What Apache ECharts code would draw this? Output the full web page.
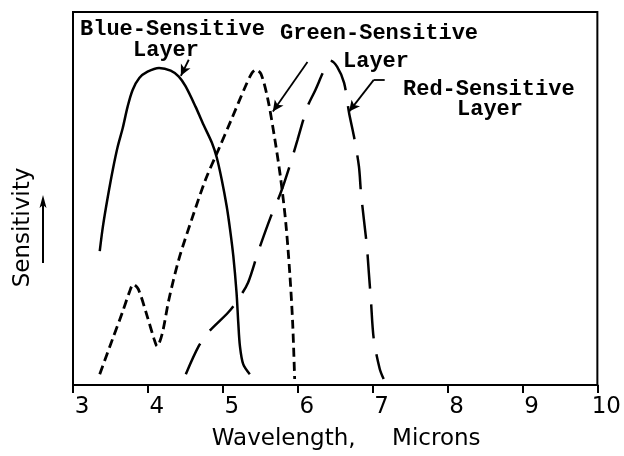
<!DOCTYPE html>
<html>
<head>
<meta charset="utf-8">
<script src="https://cdn.jsdelivr.net/npm/echarts@6/dist/echarts.min.js"></script>
<style>
  html, body { margin: 0; padding: 0; background: #fff; }
  #chart { width: 624px; height: 456px; }
</style>
</head>
<body>
<div id="chart"></div>
<script>
// ---- data (wavelength in microns, relative sensitivity 0..1) ----
const xTicks = [3, 4, 5, 6, 7, 8, 9, 10];

const blueWavelength = [3.357, 3.400, 3.466, 3.532, 3.598, 3.664, 3.730, 3.796, 3.885, 3.995, 4.149, 4.304, 4.413, 4.502, 4.634, 4.744, 4.853, 4.919, 4.985, 5.051, 5.096, 5.140, 5.183, 5.206, 5.228, 5.272, 5.360];
const blueSensitivity = [0.359, 0.426, 0.506, 0.578, 0.640, 0.689, 0.747, 0.791, 0.823, 0.840, 0.850, 0.843, 0.827, 0.801, 0.747, 0.697, 0.650, 0.610, 0.551, 0.480, 0.418, 0.346, 0.248, 0.168, 0.105, 0.056, 0.029];

const greenWavelength = [3.357, 3.528, 3.660, 3.753, 3.806, 3.872, 3.991, 4.083, 4.123, 4.189, 4.281, 4.413, 4.585, 4.770, 4.942, 5.113, 5.298, 5.391, 5.444, 5.510, 5.602, 5.695, 5.774, 5.840, 5.893, 5.932, 5.959];
const greenSensitivity = [0.029, 0.123, 0.195, 0.249, 0.270, 0.257, 0.184, 0.123, 0.104, 0.136, 0.230, 0.337, 0.444, 0.551, 0.631, 0.711, 0.799, 0.837, 0.845, 0.834, 0.765, 0.658, 0.551, 0.436, 0.302, 0.168, 0.016];

const redWavelength = [4.506, 4.678, 4.810, 5.074, 5.206, 5.338, 5.470, 5.642, 5.774, 5.906, 5.998, 6.130, 6.236, 6.355, 6.434, 6.527, 6.619, 6.685, 6.751, 6.817, 6.844, 6.883, 6.923, 6.949, 6.976, 7.015, 7.095, 7.147];
const redSensitivity = [0.029, 0.104, 0.142, 0.195, 0.230, 0.275, 0.356, 0.452, 0.516, 0.596, 0.658, 0.746, 0.791, 0.845, 0.870, 0.853, 0.810, 0.730, 0.666, 0.586, 0.516, 0.444, 0.372, 0.302, 0.230, 0.123, 0.043, 0.016];

// annotation leader lines, in data coordinates [from, to]
const blueArrow = [[4.545, 0.872], [4.44, 0.829]];
const greenArrow = [[6.13, 0.866], [5.668, 0.733]];
const redLeader = [[7.161, 0.818], [7.015, 0.818]];
const redArrow = [[7.015, 0.818], [6.685, 0.733]];

const labels = {
  blue: ['Blue-Sensitive', 'Layer'],
  green: ['Green-Sensitive', 'Layer'],
  red: ['Red-Sensitive', 'Layer']
};
const xTitle = 'Wavelength,     Microns';
const yTitle = 'Sensitivity';

// ---- chart ----
const zip = (xs, ys) => xs.map((x, i) => [x, ys[i]]);
const chart = echarts.init(document.getElementById('chart'), null, { renderer: 'canvas' });

const monoFont = 'bold 22px "Liberation Mono", monospace';
const sansFont = '"DejaVu Sans", sans-serif';

function arrowLine(pair, withArrow) {
  return [
    { coord: pair[0], symbol: 'none' },
    { coord: pair[1], symbol: withArrow ? 'arrow' : 'none', symbolSize: [8, 11] }
  ];
}

const option = {
  animation: false,
  backgroundColor: '#fff',
  grid: {
    left: 73, right: 21, top: 12, bottom: 70,
    show: true, borderColor: '#000', borderWidth: 2
  },
  xAxis: {
    type: 'value',
    min: xTicks[0], max: xTicks[xTicks.length - 1], interval: 1,
    splitLine: { show: false },
    axisLine: { lineStyle: { color: '#000', width: 2 } },
    axisTick: { show: true, length: 8, lineStyle: { color: '#000', width: 2 } },
    axisLabel: {
      color: '#000', fontFamily: sansFont, fontSize: 23, margin: 11,
      padding: [0, 0, 0, 18]
    },
    name: xTitle,
    nameLocation: 'middle',
    nameGap: 43,
    nameTextStyle: { color: '#000', fontFamily: sansFont, fontSize: 23, padding: [0, 0, 0, 22] }
  },
  yAxis: {
    type: 'value', min: 0, max: 1,
    splitLine: { show: false },
    axisLine: { show: true, lineStyle: { color: '#000', width: 2 } },
    axisTick: { show: false },
    axisLabel: { show: false },
    name: yTitle,
    nameLocation: 'middle',
    nameGap: 38,
    nameTextStyle: { color: '#000', fontFamily: sansFont, fontSize: 23, padding: [0, 58, 0, 0] }
  },
  series: [
    {
      name: 'Blue-Sensitive Layer', type: 'line', smooth: 0.3, showSymbol: false,
      data: zip(blueWavelength, blueSensitivity),
      lineStyle: { color: '#000', width: 2.5, type: 'solid' },
      markLine: {
        silent: true, label: { show: false },
        lineStyle: { color: '#000', width: 1.8, type: 'solid' },
        data: [arrowLine(blueArrow, true)]
      }
    },
    {
      name: 'Green-Sensitive Layer', type: 'line', smooth: 0.3, showSymbol: false,
      data: zip(greenWavelength, greenSensitivity),
      lineStyle: { color: '#000', width: 2.8, type: [9, 5] },
      markLine: {
        silent: true, label: { show: false },
        lineStyle: { color: '#000', width: 1.8, type: 'solid' },
        data: [arrowLine(greenArrow, true)]
      }
    },
    {
      name: 'Red-Sensitive Layer', type: 'line', smooth: 0.3, showSymbol: false,
      data: zip(redWavelength, redSensitivity),
      lineStyle: { color: '#000', width: 2.5, type: [34, 16] },
      markLine: {
        silent: true, label: { show: false },
        lineStyle: { color: '#000', width: 1.8, type: 'solid' },
        data: [arrowLine(redLeader, false), arrowLine(redArrow, true)]
      }
    }
  ],
  graphic: [
    { type: 'text', x: 80, y: 29, style: { text: labels.blue[0], font: monoFont, fill: '#000', verticalAlign: 'middle' } },
    { type: 'text', x: 133, y: 50, style: { text: labels.blue[1], font: monoFont, fill: '#000', verticalAlign: 'middle' } },
    { type: 'text', x: 280, y: 33, style: { text: labels.green[0], font: monoFont, fill: '#000', verticalAlign: 'middle' } },
    { type: 'text', x: 343, y: 61, style: { text: labels.green[1], font: monoFont, fill: '#000', verticalAlign: 'middle' } },
    { type: 'text', x: 403, y: 89, style: { text: labels.red[0], font: monoFont, fill: '#000', verticalAlign: 'middle' } },
    { type: 'text', x: 457, y: 109, style: { text: labels.red[1], font: monoFont, fill: '#000', verticalAlign: 'middle' } },
    // upward arrow next to the y-axis title
    { type: 'line', shape: { x1: 43, y1: 263, x2: 43, y2: 204 }, style: { stroke: '#000', lineWidth: 2 } },
    { type: 'polygon', shape: { points: [[43, 195], [39.5, 208], [43, 205], [46.5, 208]] }, style: { fill: '#000' } }
  ]
};
chart.setOption(option);
</script>
</body>
</html>
